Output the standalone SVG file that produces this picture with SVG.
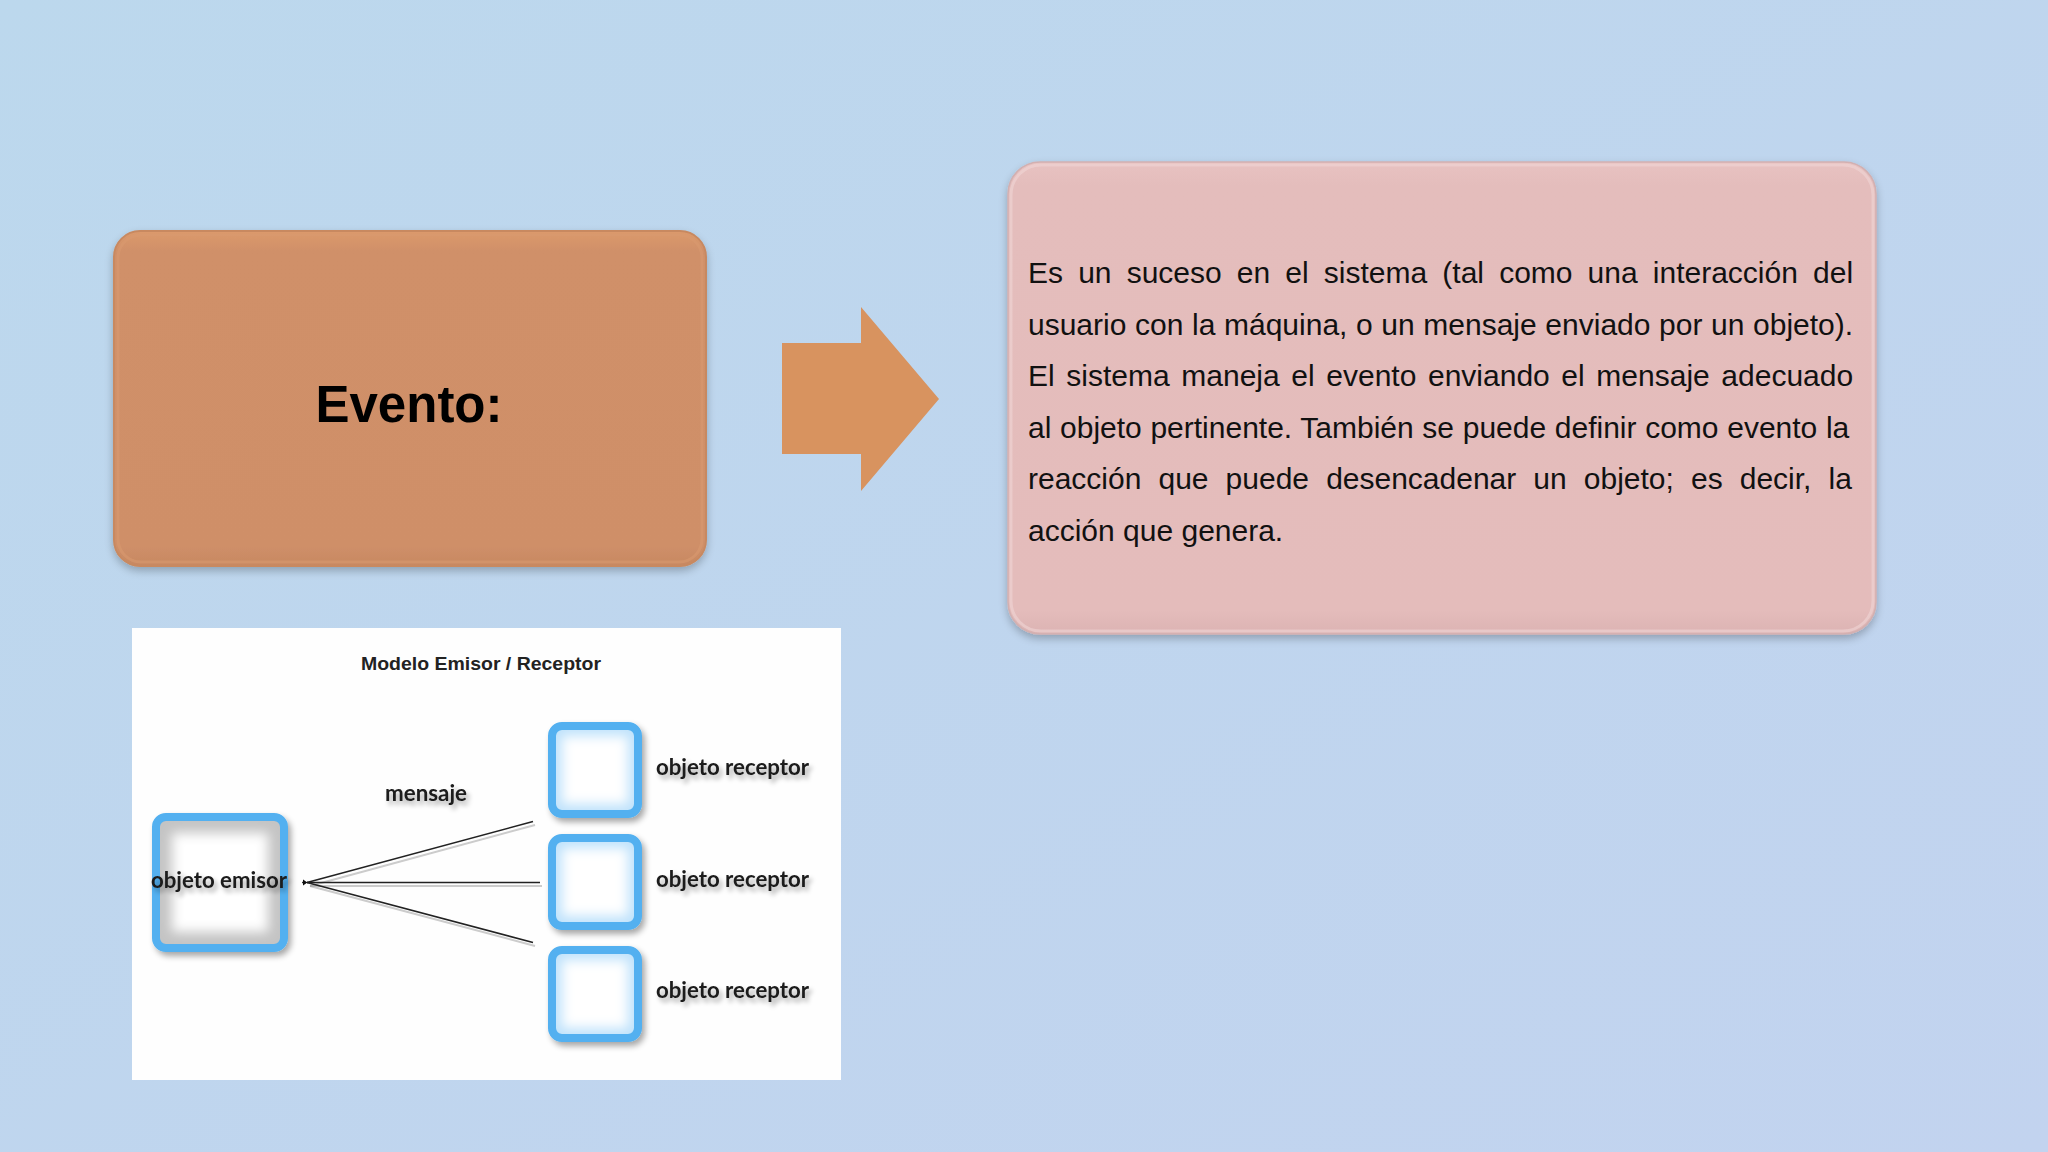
<svg xmlns="http://www.w3.org/2000/svg" width="2048" height="1152" viewBox="0 0 2048 1152">
<defs>
<linearGradient id="bg" x1="0" y1="0" x2="1" y2="1">
<stop offset="0" stop-color="#bcd8ed"/>
<stop offset="1" stop-color="#c2d3ef"/>
</linearGradient>
<linearGradient id="orangeFill" x1="0" y1="0" x2="0" y2="1">
<stop offset="0" stop-color="#dc9a6c"/>
<stop offset="0.06" stop-color="#d09069"/>
<stop offset="0.94" stop-color="#cf8f68"/>
<stop offset="1" stop-color="#c78862"/>
</linearGradient>
<linearGradient id="pinkFill" x1="0" y1="0" x2="0" y2="1">
<stop offset="0" stop-color="#e8c2c1"/>
<stop offset="0.05" stop-color="#e4bdbc"/>
<stop offset="0.95" stop-color="#e4bcbb"/>
<stop offset="1" stop-color="#dcb3b3"/>
</linearGradient>
<filter id="boxShadow" x="-10%" y="-10%" width="120%" height="125%">
<feGaussianBlur in="SourceAlpha" stdDeviation="4"/>
<feOffset dx="0" dy="4" result="b"/>
<feComponentTransfer><feFuncA type="linear" slope="0.25"/></feComponentTransfer>
<feMerge><feMergeNode/><feMergeNode in="SourceGraphic"/></feMerge>
</filter>
<filter id="soft" x="-20%" y="-20%" width="140%" height="140%">
<feGaussianBlur stdDeviation="6"/>
</filter>
<filter id="blueShadow" x="-20%" y="-20%" width="150%" height="150%">
<feGaussianBlur in="SourceAlpha" stdDeviation="3"/>
<feOffset dx="3" dy="4" result="b"/>
<feComponentTransfer><feFuncA type="linear" slope="0.35"/></feComponentTransfer>
<feMerge><feMergeNode/><feMergeNode in="SourceGraphic"/></feMerge>
</filter>
<filter id="textShadow" x="-10%" y="-30%" width="130%" height="180%">
<feGaussianBlur in="SourceAlpha" stdDeviation="2.5"/>
<feOffset dx="3" dy="4" result="b"/>
<feComponentTransfer><feFuncA type="linear" slope="0.35"/></feComponentTransfer>
<feMerge><feMergeNode/><feMergeNode in="SourceGraphic"/></feMerge>
</filter>
<marker id="arrowL" viewBox="0 0 10 10" refX="1" refY="5" markerWidth="5" markerHeight="5" orient="auto-start-reverse" markerUnits="userSpaceOnUse">
<path d="M0,5 L10,1 L10,9 Z" fill="#111"/>
</marker>
<style>
.para{font-family:"Liberation Sans",Arial,sans-serif;font-size:30px;fill:#111;}
.lbl{font-family:Lato,"Liberation Sans",sans-serif;font-weight:700;font-size:23px;fill:#1a1a1a;}
.blue{fill:none;stroke:#52b0f0;stroke-width:8;}
.conn{stroke:#222;stroke-width:1.6;fill:none;}
.connShadow{stroke:#999;stroke-width:2;fill:none;opacity:0.5;}
</style>
</defs>

<rect x="0" y="0" width="2048" height="1152" fill="url(#bg)"/>

<g id="evento">
<rect x="114" y="231" width="592" height="335" rx="26" fill="url(#orangeFill)" stroke="#c88961" stroke-width="2" filter="url(#boxShadow)"/>
<rect x="118" y="235" width="584" height="327" rx="23" fill="none" stroke="#d99a70" stroke-width="3" opacity="0.6"/>
<text x="409" y="422" text-anchor="middle" font-family="Liberation Sans, Arial, sans-serif" font-weight="700" font-size="51" fill="#000">Evento:</text>
</g>

<g id="arrow">
<polygon points="782,343 861,343 861,307 939,399 861,491 861,454 782,454" fill="#d8935f"/>
</g>

<g id="definicion">
<rect x="1008" y="162" width="868" height="472" rx="32" fill="url(#pinkFill)" stroke="#d2b0b1" stroke-width="1.5" filter="url(#boxShadow)"/>
<rect x="1011" y="165" width="862" height="466" rx="30" fill="none" stroke="#f0d6d5" stroke-width="3" opacity="0.6"/>
<text class="para">
<tspan x="1028" y="283" word-spacing="6.8">Es un suceso en el sistema (tal como una interacción del</tspan>
<tspan x="1028" y="334.5" word-spacing="0.29">usuario con la máquina, o un mensaje enviado por un objeto).</tspan>
<tspan x="1028" y="386" word-spacing="3.29">El sistema maneja el evento enviando el mensaje adecuado</tspan>
<tspan x="1028" y="437.5" word-spacing="0.33">al objeto pertinente. También se puede definir como evento la</tspan>
<tspan x="1028" y="489" word-spacing="8.75">reacción que puede desencadenar un objeto; es decir, la</tspan>
<tspan x="1028" y="540.5">acción que genera.</tspan>
</text>
</g>

<g id="modelo">
<rect x="132" y="628" width="709" height="452" fill="#fefefe"/>
<text x="481" y="670" text-anchor="middle" font-family="Liberation Sans, Arial, sans-serif" font-weight="700" font-size="19" fill="#222" textLength="240" lengthAdjust="spacingAndGlyphs">Modelo Emisor / Receptor</text>
</g>

<g id="emisor">
<g filter="url(#blueShadow)">
<rect x="156" y="817" width="128" height="131" rx="10" fill="#c4c4c4"/>
<rect x="172" y="833" width="96" height="99" fill="#ffffff" filter="url(#soft)"/>
<rect x="156" y="817" width="128" height="131" rx="10" class="blue" stroke-width="7"/>
</g>
<text class="lbl" x="151" y="888" textLength="136" lengthAdjust="spacingAndGlyphs" filter="url(#textShadow)">objeto emisor</text>
</g>

<g id="receptor1">
<g filter="url(#blueShadow)">
<rect x="552" y="726" width="86" height="88" rx="10" fill="#bfe2fb"/>
<rect x="562" y="736" width="66" height="68" fill="#ffffff" filter="url(#soft)"/>
<rect x="552" y="726" width="86" height="88" rx="10" class="blue"/>
</g>
<text class="lbl" x="656" y="775" textLength="153" lengthAdjust="spacingAndGlyphs" filter="url(#textShadow)">objeto receptor</text>
</g>

<g id="receptor2">
<g filter="url(#blueShadow)">
<rect x="552" y="838" width="86" height="88" rx="10" fill="#bfe2fb"/>
<rect x="562" y="848" width="66" height="68" fill="#ffffff" filter="url(#soft)"/>
<rect x="552" y="838" width="86" height="88" rx="10" class="blue"/>
</g>
<text class="lbl" x="656" y="887" textLength="153" lengthAdjust="spacingAndGlyphs" filter="url(#textShadow)">objeto receptor</text>
</g>

<g id="receptor3">
<g filter="url(#blueShadow)">
<rect x="552" y="950" width="86" height="88" rx="10" fill="#bfe2fb"/>
<rect x="562" y="960" width="66" height="68" fill="#ffffff" filter="url(#soft)"/>
<rect x="552" y="950" width="86" height="88" rx="10" class="blue"/>
</g>
<text class="lbl" x="656" y="998" textLength="153" lengthAdjust="spacingAndGlyphs" filter="url(#textShadow)">objeto receptor</text>
</g>

<g id="connectors">
<line class="connShadow" x1="310" y1="886" x2="535" y2="825"/>
<line class="connShadow" x1="310" y1="886" x2="542" y2="886"/>
<line class="connShadow" x1="310" y1="886" x2="535" y2="946"/>
<line class="conn" x1="307" y1="882.5" x2="533" y2="821.5" marker-start="url(#arrowL)"/>
<line class="conn" x1="307" y1="882.5" x2="540" y2="882.5" marker-start="url(#arrowL)"/>
<line class="conn" x1="307" y1="882.5" x2="533" y2="942.5" marker-start="url(#arrowL)"/>
<text class="lbl" x="385" y="801" textLength="82" lengthAdjust="spacingAndGlyphs" filter="url(#textShadow)">mensaje</text>
</g>
</svg>
